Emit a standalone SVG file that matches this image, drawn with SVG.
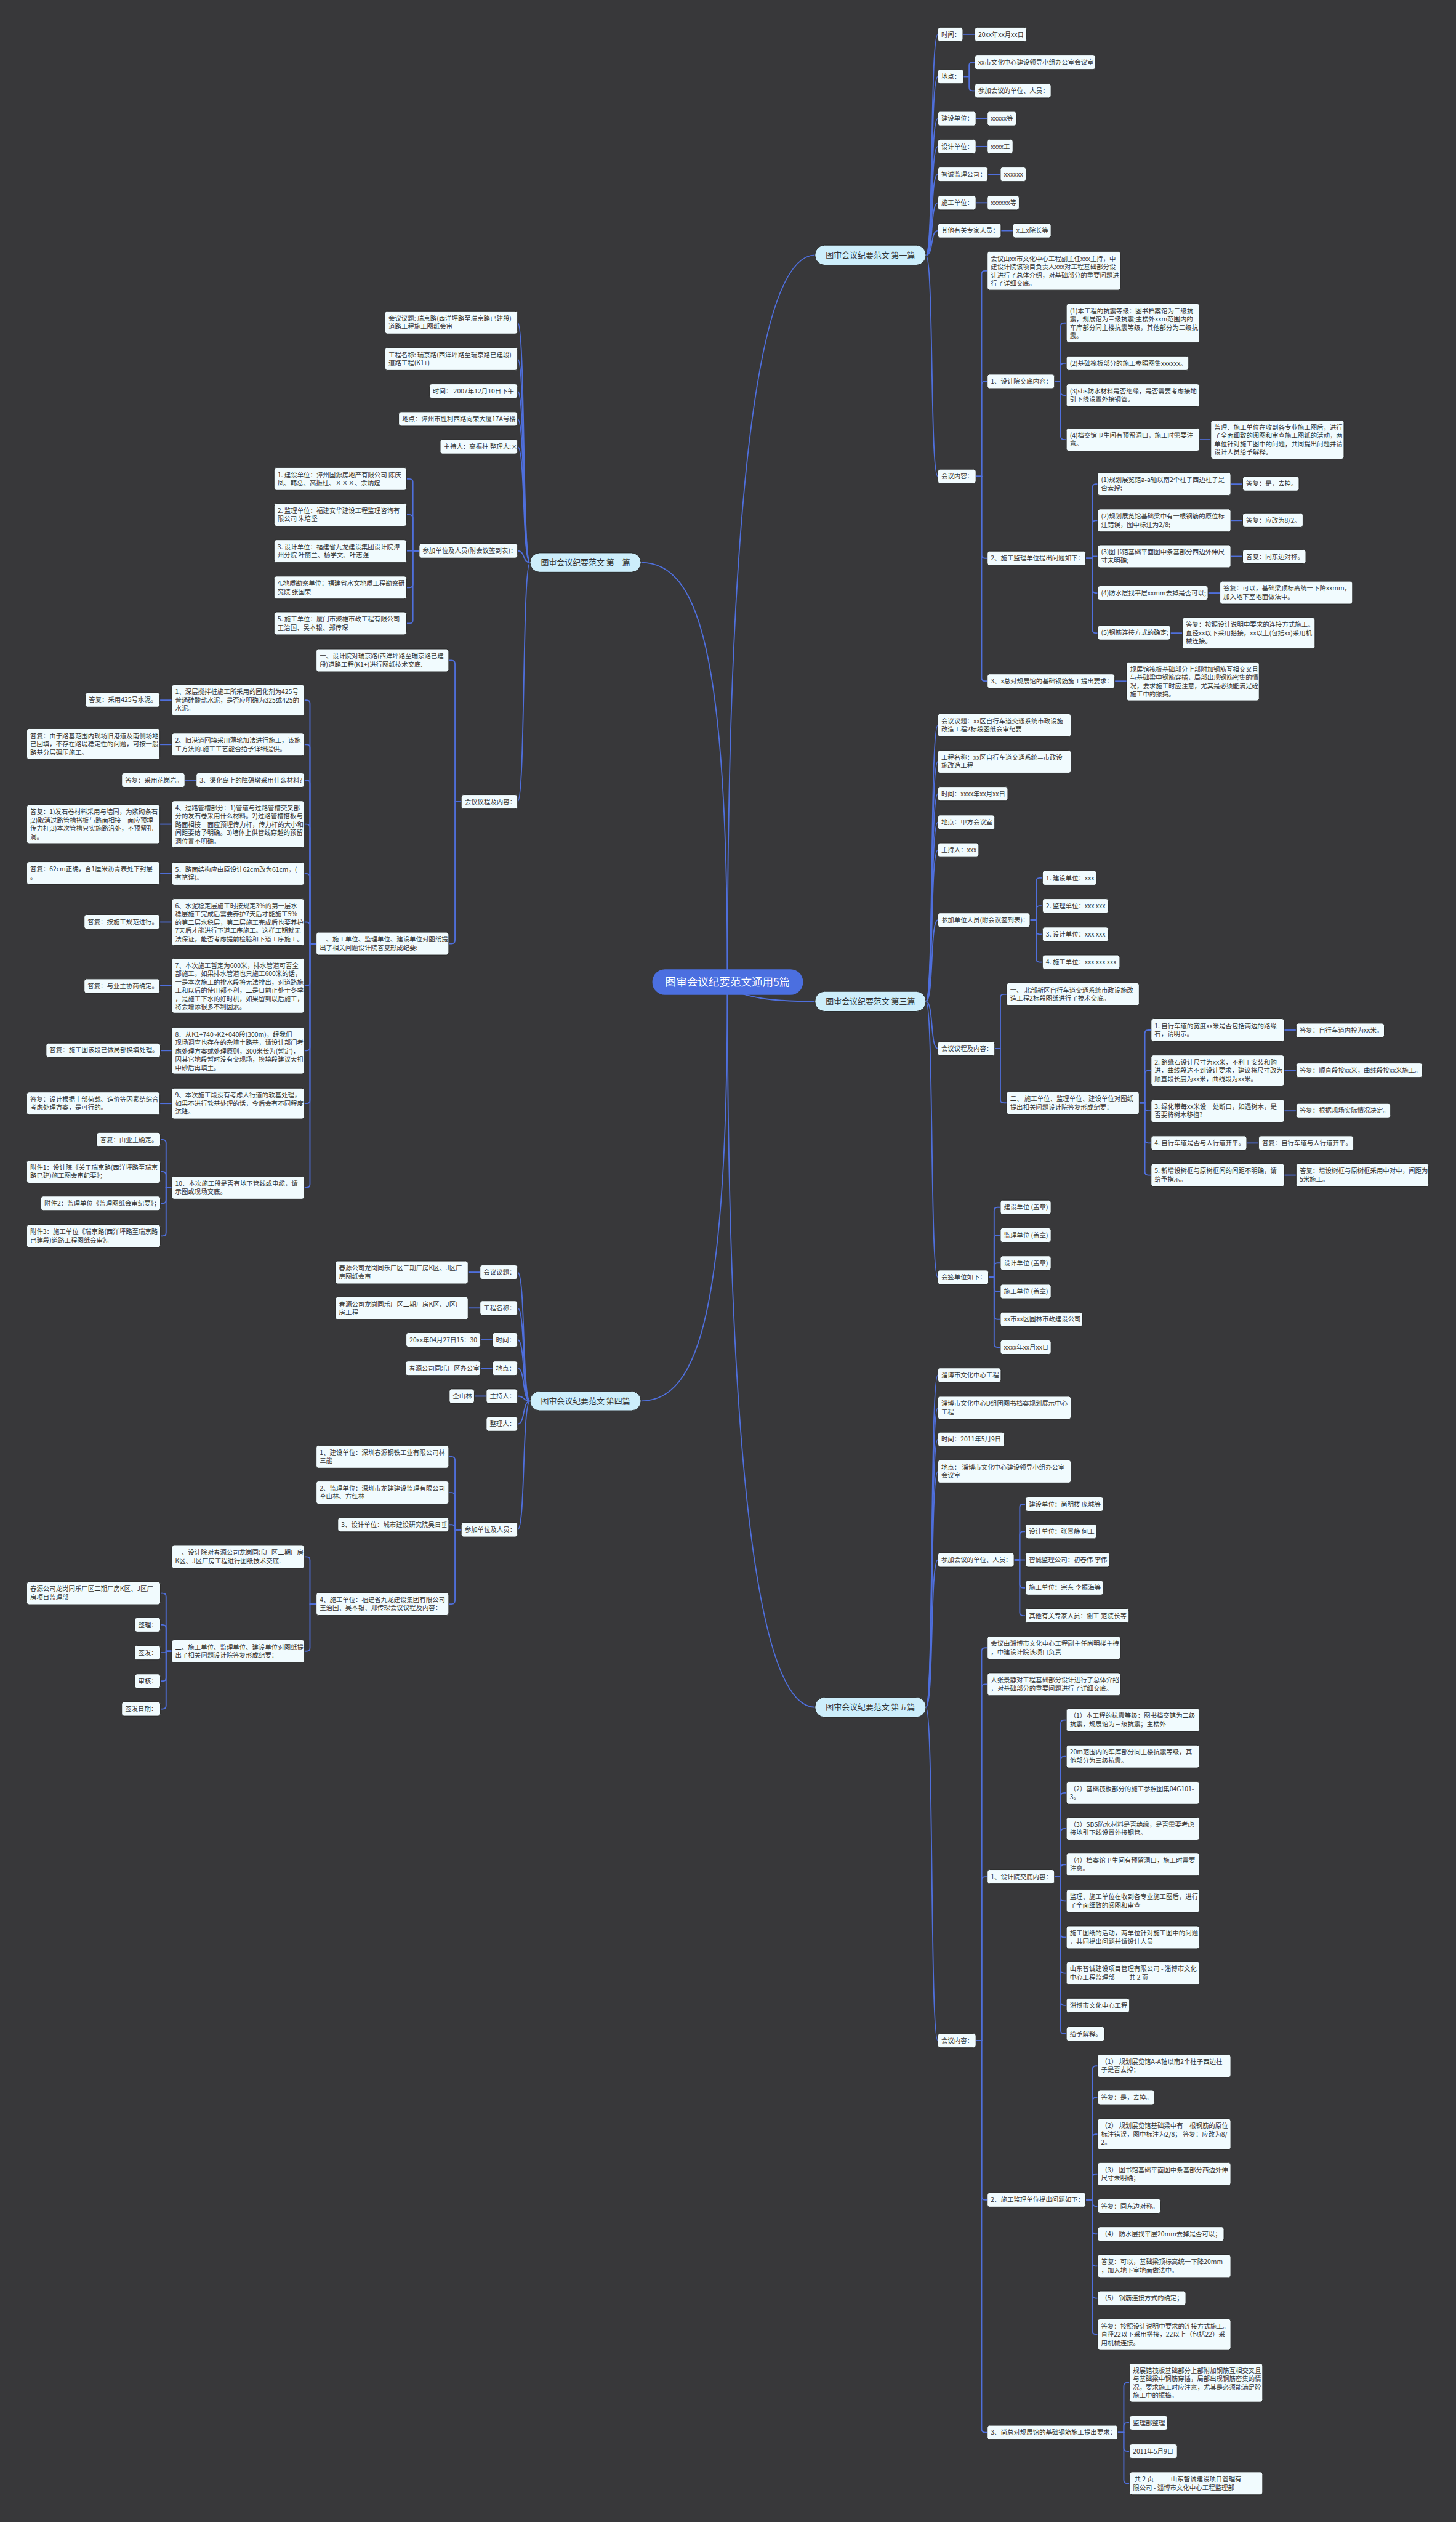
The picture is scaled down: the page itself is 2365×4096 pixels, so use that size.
<svg xmlns="http://www.w3.org/2000/svg" width="2365" height="4096" viewBox="0 0 2365 4096">
<style>
.n{fill:#f1fbfe;stroke:#232323;stroke-width:1;rx:4px;ry:4px}
.t{font-family:"Noto Sans CJK SC","Liberation Sans",sans-serif;font-size:11.3px;fill:#333}
.h{fill:#cdeefb;stroke:#222;stroke-width:1;rx:17px;ry:17px}
.ht{font-family:"Noto Sans CJK SC","Liberation Sans",sans-serif;font-size:14px;fill:#333;text-anchor:middle}
.c{fill:none;stroke:#4f6fdc;stroke-width:2}
</style>
<rect width="2365" height="4096" fill="#38383a"/>
<g transform="scale(0.9238)">
<g id="connectors" class="c">
<path d="M1279,1726C1279,900 1330,448.5 1433,448.5"/>
<path d="M1279,1726C1279,1150 1230,989 1127,989"/>
<path d="M1279,1735C1310,1755 1360,1760.5 1433,1760.5"/>
<path d="M1279,1726C1279,2300 1230,2463 1127,2463"/>
<path d="M1279,1726C1279,2550 1330,3001.5 1433,3001.5"/>
<path d="M1628,448.5C1642,448.5 1635,60.5 1649,60.5"/>
<path d="M1628,448.5C1642,448.5 1635,134.5 1649,134.5"/>
<path d="M1628,448.5C1642,448.5 1635,208.5 1649,208.5"/>
<path d="M1628,448.5C1642,448.5 1635,257.5 1649,257.5"/>
<path d="M1628,448.5C1642,448.5 1635,306.5 1649,306.5"/>
<path d="M1628,448.5C1642,448.5 1635,356.5 1649,356.5"/>
<path d="M1628,448.5C1642,448.5 1635,405.5 1649,405.5"/>
<path d="M1628,448.5C1642,448.5 1635,837.5 1649,837.5"/>
<path d="M1693,60.5H1714"/>
<path d="M1694,134.5H1704V115.5Q1704,109.5 1710,109.5H1714"/>
<path d="M1694,134.5H1704V153.5Q1704,159.5 1710,159.5H1714"/>
<path d="M1716,208.5H1736"/>
<path d="M1716,257.5H1736"/>
<path d="M1737,306.5H1759"/>
<path d="M1716,356.5H1736"/>
<path d="M1760,405.5H1781"/>
<path d="M1716,837.5H1726V482Q1726,476 1732,476H1736"/>
<path d="M1716,837.5H1726V676.5Q1726,670.5 1732,670.5H1736"/>
<path d="M1716,837.5H1726V975.5Q1726,981.5 1732,981.5H1736"/>
<path d="M1716,837.5H1726V1191.5Q1726,1197.5 1732,1197.5H1736"/>
<path d="M1854,670.5H1865V574Q1865,568 1871,568H1875"/>
<path d="M1854,670.5H1865V644.5Q1865,638.5 1871,638.5H1875"/>
<path d="M1854,670.5H1865V689Q1865,695 1871,695H1875"/>
<path d="M1854,670.5H1865V767Q1865,773 1871,773H1875"/>
<path d="M2109,773H2129"/>
<path d="M1909,981.5H1921V857Q1921,851 1927,851H1930"/>
<path d="M1909,981.5H1921V921Q1921,915 1927,915H1930"/>
<path d="M1909,981.5H1921V978H1930"/>
<path d="M1909,981.5H1921V1036.5Q1921,1042.5 1927,1042.5H1930"/>
<path d="M1909,981.5H1921V1107Q1921,1113 1927,1113H1930"/>
<path d="M2164,851H2185"/>
<path d="M2164,915H2185"/>
<path d="M2164,978H2185"/>
<path d="M2124,1042.5H2145"/>
<path d="M2058,1113H2079"/>
<path d="M1960,1197.5H1981"/>
<path d="M1628,1760.5C1642,1760.5 1635,1275 1649,1275"/>
<path d="M1628,1760.5C1642,1760.5 1635,1339 1649,1339"/>
<path d="M1628,1760.5C1642,1760.5 1635,1395.5 1649,1395.5"/>
<path d="M1628,1760.5C1642,1760.5 1635,1445.5 1649,1445.5"/>
<path d="M1628,1760.5C1642,1760.5 1635,1494.5 1649,1494.5"/>
<path d="M1628,1760.5C1642,1760.5 1635,1617.5 1649,1617.5"/>
<path d="M1628,1760.5C1642,1760.5 1635,1843.5 1649,1843.5"/>
<path d="M1628,1760.5C1642,1760.5 1635,2245.5 1649,2245.5"/>
<path d="M1811,1617.5H1822V1549.5Q1822,1543.5 1828,1543.5H1833"/>
<path d="M1811,1617.5H1822V1598.5Q1822,1592.5 1828,1592.5H1833"/>
<path d="M1811,1617.5H1822V1636.5Q1822,1642.5 1828,1642.5H1833"/>
<path d="M1811,1617.5H1822V1685.5Q1822,1691.5 1828,1691.5H1833"/>
<path d="M1749,1843.5H1759V1754Q1759,1748 1765,1748H1770"/>
<path d="M1749,1843.5H1759V1933Q1759,1939 1765,1939H1770"/>
<path d="M2003,1939H2013V1817Q2013,1811 2019,1811H2024"/>
<path d="M2003,1939H2013V1888Q2013,1882 2019,1882H2024"/>
<path d="M2003,1939H2013V1947Q2013,1953 2019,1953H2024"/>
<path d="M2003,1939H2013V2003.5Q2013,2009.5 2019,2009.5H2024"/>
<path d="M2003,1939H2013V2060Q2013,2066 2019,2066H2024"/>
<path d="M2258,1811H2279"/>
<path d="M2258,1882H2279"/>
<path d="M2258,1953H2279"/>
<path d="M2192,2009.5H2213"/>
<path d="M2258,2066H2279"/>
<path d="M1738,2245.5H1748V2128.5Q1748,2122.5 1754,2122.5H1759"/>
<path d="M1738,2245.5H1748V2177.5Q1748,2171.5 1754,2171.5H1759"/>
<path d="M1738,2245.5H1748V2226.5Q1748,2220.5 1754,2220.5H1759"/>
<path d="M1738,2245.5H1748V2264.5Q1748,2270.5 1754,2270.5H1759"/>
<path d="M1738,2245.5H1748V2313.5Q1748,2319.5 1754,2319.5H1759"/>
<path d="M1738,2245.5H1748V2362.5Q1748,2368.5 1754,2368.5H1759"/>
<path d="M1628,3001.5C1642,3001.5 1635,2417.5 1649,2417.5"/>
<path d="M1628,3001.5C1642,3001.5 1635,2475 1649,2475"/>
<path d="M1628,3001.5C1642,3001.5 1635,2530.5 1649,2530.5"/>
<path d="M1628,3001.5C1642,3001.5 1635,2587 1649,2587"/>
<path d="M1628,3001.5C1642,3001.5 1635,2742.5 1649,2742.5"/>
<path d="M1628,3001.5C1642,3001.5 1635,3587.5 1649,3587.5"/>
<path d="M1783,2742.5H1793V2650.5Q1793,2644.5 1799,2644.5H1803"/>
<path d="M1783,2742.5H1793V2698.5Q1793,2692.5 1799,2692.5H1803"/>
<path d="M1783,2742.5H1803"/>
<path d="M1783,2742.5H1793V2785.5Q1793,2791.5 1799,2791.5H1803"/>
<path d="M1783,2742.5H1793V2834.5Q1793,2840.5 1799,2840.5H1803"/>
<path d="M1716,3587.5H1726V2903Q1726,2897 1732,2897H1736"/>
<path d="M1716,3587.5H1726V2967Q1726,2961 1732,2961H1736"/>
<path d="M1716,3587.5H1726V3305.5Q1726,3299.5 1732,3299.5H1736"/>
<path d="M1716,3587.5H1726V3861.5Q1726,3867.5 1732,3867.5H1736"/>
<path d="M1716,3587.5H1726V4270.5Q1726,4276.5 1732,4276.5H1736"/>
<path d="M1854,3299.5H1865V3030Q1865,3024 1871,3024H1875"/>
<path d="M1854,3299.5H1865V3094Q1865,3088 1871,3088H1875"/>
<path d="M1854,3299.5H1865V3158Q1865,3152 1871,3152H1875"/>
<path d="M1854,3299.5H1865V3221Q1865,3215 1871,3215H1875"/>
<path d="M1854,3299.5H1865V3284Q1865,3278 1871,3278H1875"/>
<path d="M1854,3299.5H1865V3336Q1865,3342 1871,3342H1875"/>
<path d="M1854,3299.5H1865V3400Q1865,3406 1871,3406H1875"/>
<path d="M1854,3299.5H1865V3463Q1865,3469 1871,3469H1875"/>
<path d="M1854,3299.5H1865V3519.5Q1865,3525.5 1871,3525.5H1875"/>
<path d="M1854,3299.5H1865V3569.5Q1865,3575.5 1871,3575.5H1875"/>
<path d="M1909,3867.5H1921V3638Q1921,3632 1927,3632H1930"/>
<path d="M1909,3867.5H1921V3693.5Q1921,3687.5 1927,3687.5H1930"/>
<path d="M1909,3867.5H1921V3758Q1921,3752 1927,3752H1930"/>
<path d="M1909,3867.5H1921V3828Q1921,3822 1927,3822H1930"/>
<path d="M1909,3867.5H1921V3872.5Q1921,3878.5 1927,3878.5H1930"/>
<path d="M1909,3867.5H1921V3921.5Q1921,3927.5 1927,3927.5H1930"/>
<path d="M1909,3867.5H1921V3978Q1921,3984 1927,3984H1930"/>
<path d="M1909,3867.5H1921V4034.5Q1921,4040.5 1927,4040.5H1930"/>
<path d="M1909,3867.5H1921V4098Q1921,4104 1927,4104H1930"/>
<path d="M1965,4276.5H1976V4195Q1976,4189 1982,4189H1986"/>
<path d="M1965,4276.5H1976V4265.5Q1976,4259.5 1982,4259.5H1986"/>
<path d="M1965,4276.5H1976V4303.5Q1976,4309.5 1982,4309.5H1986"/>
<path d="M1965,4276.5H1976V4360Q1976,4366 1982,4366H1986"/>
<path d="M932,989C918,989 924,567 910,567"/>
<path d="M932,989C918,989 924,631 910,631"/>
<path d="M932,989C918,989 924,687.5 910,687.5"/>
<path d="M932,989C918,989 924,736.5 910,736.5"/>
<path d="M932,989C918,989 924,785.5 910,785.5"/>
<path d="M932,989C918,989 924,968.5 910,968.5"/>
<path d="M932,989C918,989 924,1409.5 910,1409.5"/>
<path d="M737,968.5H726V848Q726,842 720,842H715"/>
<path d="M737,968.5H726V911Q726,905 720,905H715"/>
<path d="M737,968.5H715"/>
<path d="M737,968.5H726V1027Q726,1033 720,1033H715"/>
<path d="M737,968.5H726V1090Q726,1096 720,1096H715"/>
<path d="M811,1409.5H800V1167Q800,1161 794,1161H789"/>
<path d="M811,1409.5H800V1653Q800,1659 794,1659H789"/>
<path d="M556,1659H545V1237Q545,1231 539,1231H535"/>
<path d="M556,1659H545V1315Q545,1309 539,1309H535"/>
<path d="M556,1659H545V1377.5Q545,1371.5 539,1371.5H535"/>
<path d="M556,1659H545V1455Q545,1449 539,1449H535"/>
<path d="M556,1659H545V1542Q545,1536 539,1536H535"/>
<path d="M556,1659H545V1627Q545,1621 539,1621H535"/>
<path d="M556,1659H545V1727Q545,1733 539,1733H535"/>
<path d="M556,1659H545V1841Q545,1847 539,1847H535"/>
<path d="M556,1659H545V1934Q545,1940 539,1940H535"/>
<path d="M556,1659H545V2082Q545,2088 539,2088H535"/>
<path d="M302,1231H281"/>
<path d="M302,1309H281"/>
<path d="M345,1371.5H325"/>
<path d="M302,1449H281"/>
<path d="M302,1536H281"/>
<path d="M302,1621H281"/>
<path d="M302,1733H281"/>
<path d="M302,1847H282"/>
<path d="M302,1940H281"/>
<path d="M302,2088H292V2009.5Q292,2003.5 286,2003.5H282"/>
<path d="M302,2088H292V2066Q292,2060 286,2060H282"/>
<path d="M302,2088H292V2109.5Q292,2115.5 286,2115.5H282"/>
<path d="M302,2088H292V2167Q292,2173 286,2173H282"/>
<path d="M932,2463C918,2463 924,2236.5 910,2236.5"/>
<path d="M932,2463C918,2463 924,2299.5 910,2299.5"/>
<path d="M932,2463C918,2463 924,2355.5 910,2355.5"/>
<path d="M932,2463C918,2463 924,2405.5 910,2405.5"/>
<path d="M932,2463C918,2463 924,2454.5 910,2454.5"/>
<path d="M932,2463C918,2463 924,2503.5 910,2503.5"/>
<path d="M932,2463C918,2463 924,2689.5 910,2689.5"/>
<path d="M844,2236.5H823"/>
<path d="M844,2299.5H823"/>
<path d="M866,2355.5H845"/>
<path d="M866,2405.5H845"/>
<path d="M855,2454.5H834"/>
<path d="M811,2689.5H800V2567Q800,2561 794,2561H789"/>
<path d="M811,2689.5H800V2630Q800,2624 794,2624H789"/>
<path d="M811,2689.5H800V2686.5Q800,2680.5 794,2680.5H789"/>
<path d="M811,2689.5H800V2814Q800,2820 794,2820H789"/>
<path d="M556,2820H545V2743Q545,2737 539,2737H535"/>
<path d="M556,2820H545V2897Q545,2903 539,2903H535"/>
<path d="M302,2903H292V2807Q292,2801 286,2801H282"/>
<path d="M302,2903H292V2862.5Q292,2856.5 286,2856.5H282"/>
<path d="M302,2903H292V2905.5H282"/>
<path d="M302,2903H292V2949.5Q292,2955.5 286,2955.5H282"/>
<path d="M302,2903H292V2998.5Q292,3004.5 286,3004.5H282"/>
</g>
<g id="center"><rect x="1147" y="1704" width="265" height="45" rx="22" fill="#4b6fe0"/><text x="1279.5" y="1733" font-family="Noto Sans CJK SC, sans-serif" font-size="19" fill="#fff" text-anchor="middle">图审会议纪要范文通用5篇</text></g>
<g id="h1"><rect class="h" x="1433" y="431" width="195" height="35"/><text class="ht" x="1530.5" y="453.5">图审会议纪要范文 第一篇</text></g>
<g id="h2"><rect class="h" x="932" y="972" width="195" height="34"/><text class="ht" x="1029.5" y="994">图审会议纪要范文 第二篇</text></g>
<g id="h3"><rect class="h" x="1433" y="1743" width="195" height="35"/><text class="ht" x="1530.5" y="1765.5">图审会议纪要范文 第三篇</text></g>
<g id="h4"><rect class="h" x="932" y="2446" width="195" height="34"/><text class="ht" x="1029.5" y="2468">图审会议纪要范文 第四篇</text></g>
<g id="h5"><rect class="h" x="1433" y="2984" width="195" height="35"/><text class="ht" x="1530.5" y="3006.5">图审会议纪要范文 第五篇</text></g>
<g id="n1"><rect class="n" x="1649" y="48" width="44" height="25"/><text class="t" x="1655" y="64.5">时间：</text></g>
<g id="n2"><rect class="n" x="1714" y="48" width="91" height="25"/><text class="t" x="1720" y="64.5">20xx年xx月xx日</text></g>
<g id="n3"><rect class="n" x="1649" y="122" width="45" height="25"/><text class="t" x="1655" y="138.5">地点：</text></g>
<g id="n4"><rect class="n" x="1714" y="97" width="212" height="25"/><text class="t" x="1720" y="113.5">xx市文化中心建设领导小组办公室会议室</text></g>
<g id="n5"><rect class="n" x="1714" y="147" width="134" height="25"/><text class="t" x="1720" y="163.5">参加会议的单位、人员：</text></g>
<g id="n6"><rect class="n" x="1649" y="196" width="67" height="25"/><text class="t" x="1655" y="212.5">建设单位：</text></g>
<g id="n7"><rect class="n" x="1736" y="196" width="51" height="25"/><text class="t" x="1742" y="212.5">xxxxx等</text></g>
<g id="n8"><rect class="n" x="1649" y="245" width="67" height="25"/><text class="t" x="1655" y="261.5">设计单位：</text></g>
<g id="n9"><rect class="n" x="1736" y="245" width="45" height="25"/><text class="t" x="1742" y="261.5">xxxx工</text></g>
<g id="n10"><rect class="n" x="1649" y="294" width="88" height="25"/><text class="t" x="1655" y="310.5">智诚监理公司：</text></g>
<g id="n11"><rect class="n" x="1759" y="294" width="45" height="25"/><text class="t" x="1765" y="310.5">xxxxxx</text></g>
<g id="n12"><rect class="n" x="1649" y="344" width="67" height="25"/><text class="t" x="1655" y="360.5">施工单位：</text></g>
<g id="n13"><rect class="n" x="1736" y="344" width="56" height="25"/><text class="t" x="1742" y="360.5">xxxxxx等</text></g>
<g id="n14"><rect class="n" x="1649" y="393" width="111" height="25"/><text class="t" x="1655" y="409.5">其他有关专家人员：</text></g>
<g id="n15"><rect class="n" x="1781" y="393" width="67" height="25"/><text class="t" x="1787" y="409.5">x工x院长等</text></g>
<g id="n16"><rect class="n" x="1736" y="442" width="234" height="68"/><text class="t" x="1742" y="458.5">会议由xx市文化中心工程副主任xxx主持，中<tspan x="1742" dy="14.6">建设计院该项目负责人xxx对工程基础部分设</tspan><tspan x="1742" dy="14.6">计进行了总体介绍，对基础部分的重要问题进</tspan><tspan x="1742" dy="14.6">行了详细交底。</tspan></text></g>
<g id="n17"><rect class="n" x="1736" y="658" width="118" height="25"/><text class="t" x="1742" y="674.5">1、设计院交底内容：</text></g>
<g id="n18"><rect class="n" x="1875" y="534" width="234" height="68"/><text class="t" x="1881" y="550.5">(1)本工程的抗震等级：图书档案馆为二级抗<tspan x="1881" dy="14.6">震，规展馆为三级抗震;主楼外xxm范围内的</tspan><tspan x="1881" dy="14.6">车库部分同主楼抗震等级，其他部分为三级抗</tspan><tspan x="1881" dy="14.6">震。</tspan></text></g>
<g id="n19"><rect class="n" x="1875" y="626" width="215" height="25"/><text class="t" x="1881" y="642.5">(2)基础筏板部分的施工参照图集xxxxxx。</text></g>
<g id="n20"><rect class="n" x="1875" y="675" width="234" height="40"/><text class="t" x="1881" y="691.5">(3)sbs防水材料是否绝缘，是否需要考虑接地<tspan x="1881" dy="14.6">引下线设置外接钢管。</tspan></text></g>
<g id="n21"><rect class="n" x="1875" y="753" width="234" height="40"/><text class="t" x="1881" y="769.5">(4)档案馆卫生间有预留洞口，施工时需要注<tspan x="1881" dy="14.6">意。</tspan></text></g>
<g id="n22"><rect class="n" x="2129" y="739" width="234" height="68"/><text class="t" x="2135" y="755.5">监理、施工单位在收到各专业施工图后，进行<tspan x="2135" dy="14.6">了全面细致的阅图和审查施工图纸的活动，两</tspan><tspan x="2135" dy="14.6">单位针对施工图中的问题，共同提出问题并请</tspan><tspan x="2135" dy="14.6">设计人员给予解释。</tspan></text></g>
<g id="n23"><rect class="n" x="1649" y="825" width="67" height="25"/><text class="t" x="1655" y="841.5">会议内容：</text></g>
<g id="n24"><rect class="n" x="1930" y="831" width="234" height="40"/><text class="t" x="1936" y="847.5">(1)规划展览馆a-a轴以南2个柱子西边柱子是<tspan x="1936" dy="14.6">否去掉;</tspan></text></g>
<g id="n25"><rect class="n" x="2185" y="838" width="99" height="25"/><text class="t" x="2191" y="854.5">答复：是，去掉。</text></g>
<g id="n26"><rect class="n" x="1930" y="895" width="234" height="40"/><text class="t" x="1936" y="911.5">(2)规划展览馆基础梁中有一根钢筋的原位标<tspan x="1936" dy="14.6">注错误，图中标注为2/8;</tspan></text></g>
<g id="n27"><rect class="n" x="2185" y="902" width="106" height="25"/><text class="t" x="2191" y="918.5">答复：应改为8/2。</text></g>
<g id="n28"><rect class="n" x="1930" y="958" width="234" height="40"/><text class="t" x="1936" y="974.5">(3)图书馆基础平面图中条基部分西边外伸尺<tspan x="1936" dy="14.6">寸未明确;</tspan></text></g>
<g id="n29"><rect class="n" x="2185" y="966" width="111" height="25"/><text class="t" x="2191" y="982.5">答复：同东边对称。</text></g>
<g id="n30"><rect class="n" x="1736" y="969" width="173" height="25"/><text class="t" x="1742" y="985.5">2、施工监理单位提出问题如下：</text></g>
<g id="n31"><rect class="n" x="1930" y="1030" width="194" height="25"/><text class="t" x="1936" y="1046.5">(4)防水层找平层xxmm去掉是否可以;</text></g>
<g id="n32"><rect class="n" x="2145" y="1022" width="233" height="40"/><text class="t" x="2151" y="1038.5">答复：可以，基础梁顶标高统一下降xxmm，<tspan x="2151" dy="14.6">加入地下室地面做法中。</tspan></text></g>
<g id="n33"><rect class="n" x="1930" y="1100" width="128" height="25"/><text class="t" x="1936" y="1116.5">(5)钢筋连接方式的确定;</text></g>
<g id="n34"><rect class="n" x="2079" y="1086" width="233" height="54"/><text class="t" x="2085" y="1102.5">答复：按照设计说明中要求的连接方式施工。<tspan x="2085" dy="14.6">直径xx以下采用搭接，xx以上(包括xx)采用机</tspan><tspan x="2085" dy="14.6">械连接。</tspan></text></g>
<g id="n35"><rect class="n" x="1736" y="1185" width="224" height="25"/><text class="t" x="1742" y="1201.5">3、x总对规展馆的基础钢筋施工提出要求：</text></g>
<g id="n36"><rect class="n" x="1981" y="1164" width="233" height="68"/><text class="t" x="1987" y="1180.5">规展馆筏板基础部分上部附加钢筋互相交叉且<tspan x="1987" dy="14.6">与基础梁中钢筋穿插，局部出现钢筋密集的情</tspan><tspan x="1987" dy="14.6">况，要求施工时应注意，尤其是必须能满足砼</tspan><tspan x="1987" dy="14.6">施工中的振捣。</tspan></text></g>
<g id="n37"><rect class="n" x="1649" y="1255" width="234" height="40"/><text class="t" x="1655" y="1271.5">会议议题：xx区自行车道交通系统市政设施<tspan x="1655" dy="14.6">改造工程2标段图纸会审纪要</tspan></text></g>
<g id="n38"><rect class="n" x="1649" y="1319" width="234" height="40"/><text class="t" x="1655" y="1335.5">工程名称：xx区自行车道交通系统—市政设<tspan x="1655" dy="14.6">施改造工程</tspan></text></g>
<g id="n39"><rect class="n" x="1649" y="1383" width="123" height="25"/><text class="t" x="1655" y="1399.5">时间：xxxx年xx月xx日</text></g>
<g id="n40"><rect class="n" x="1649" y="1433" width="100" height="25"/><text class="t" x="1655" y="1449.5">地点：甲方会议室</text></g>
<g id="n41"><rect class="n" x="1649" y="1482" width="72" height="25"/><text class="t" x="1655" y="1498.5">主持人：xxx</text></g>
<g id="n42"><rect class="n" x="1649" y="1605" width="162" height="25"/><text class="t" x="1655" y="1621.5">参加单位人员(附会议签到表)：</text></g>
<g id="n43"><rect class="n" x="1833" y="1531" width="95" height="25"/><text class="t" x="1839" y="1547.5">1. 建设单位：xxx</text></g>
<g id="n44"><rect class="n" x="1833" y="1580" width="116" height="25"/><text class="t" x="1839" y="1596.5">2. 监理单位：xxx xxx</text></g>
<g id="n45"><rect class="n" x="1833" y="1630" width="116" height="25"/><text class="t" x="1839" y="1646.5">3. 设计单位：xxx xxx</text></g>
<g id="n46"><rect class="n" x="1833" y="1679" width="136" height="25"/><text class="t" x="1839" y="1695.5">4. 施工单位：xxx xxx xxx</text></g>
<g id="n47"><rect class="n" x="1770" y="1728" width="233" height="40"/><text class="t" x="1776" y="1744.5">一、 北部新区自行车道交通系统市政设施改<tspan x="1776" dy="14.6">造工程2标段图纸进行了技术交底。</tspan></text></g>
<g id="n48"><rect class="n" x="1649" y="1831" width="100" height="25"/><text class="t" x="1655" y="1847.5">会议议程及内容：</text></g>
<g id="n49"><rect class="n" x="1770" y="1919" width="233" height="40"/><text class="t" x="1776" y="1935.5">二、 施工单位、监理单位、建设单位对图纸<tspan x="1776" dy="14.6">提出相关问题设计院答复形成纪要：</tspan></text></g>
<g id="n50"><rect class="n" x="2024" y="1791" width="234" height="40"/><text class="t" x="2030" y="1807.5">1. 自行车道的宽度xx米是否包括两边的路缘<tspan x="2030" dy="14.6">石，请明示。</tspan></text></g>
<g id="n51"><rect class="n" x="2279" y="1799" width="155" height="25"/><text class="t" x="2285" y="1815.5">答复：自行车道内控为xx米。</text></g>
<g id="n52"><rect class="n" x="2024" y="1855" width="234" height="54"/><text class="t" x="2030" y="1871.5">2. 路缘石设计尺寸为xx米，不利于安装和购<tspan x="2030" dy="14.6">进，曲线段达不到设计要求，建议将尺寸改为</tspan><tspan x="2030" dy="14.6">顺直段长度为xx米，曲线段为xx米。</tspan></text></g>
<g id="n53"><rect class="n" x="2279" y="1869" width="222" height="25"/><text class="t" x="2285" y="1885.5">答复：顺直段按xx米，曲线段按xx米施工。</text></g>
<g id="n54"><rect class="n" x="2024" y="1933" width="234" height="40"/><text class="t" x="2030" y="1949.5">3. 绿化带每xx米设一处断口，如遇树木，是<tspan x="2030" dy="14.6">否要将树木移植?</tspan></text></g>
<g id="n55"><rect class="n" x="2279" y="1940" width="166" height="25"/><text class="t" x="2285" y="1956.5">答复：根据现场实际情况决定。</text></g>
<g id="n56"><rect class="n" x="2024" y="1997" width="168" height="25"/><text class="t" x="2030" y="2013.5">4. 自行车道是否与人行道齐平。</text></g>
<g id="n57"><rect class="n" x="2213" y="1997" width="167" height="25"/><text class="t" x="2219" y="2013.5">答复：自行车道与人行道齐平。</text></g>
<g id="n58"><rect class="n" x="2024" y="2046" width="234" height="40"/><text class="t" x="2030" y="2062.5">5. 新增设树框与原树框间的间距不明确，请<tspan x="2030" dy="14.6">给予指示。</tspan></text></g>
<g id="n59"><rect class="n" x="2279" y="2046" width="233" height="40"/><text class="t" x="2285" y="2062.5">答复：增设树框与原树框采用中对中，间距为<tspan x="2285" dy="14.6">5米施工。</tspan></text></g>
<g id="n60"><rect class="n" x="1649" y="2233" width="89" height="25"/><text class="t" x="1655" y="2249.5">会签单位如下：</text></g>
<g id="n61"><rect class="n" x="1759" y="2110" width="89" height="25"/><text class="t" x="1765" y="2126.5">建设单位 (盖章)</text></g>
<g id="n62"><rect class="n" x="1759" y="2159" width="89" height="25"/><text class="t" x="1765" y="2175.5">监理单位 (盖章)</text></g>
<g id="n63"><rect class="n" x="1759" y="2208" width="89" height="25"/><text class="t" x="1765" y="2224.5">设计单位 (盖章)</text></g>
<g id="n64"><rect class="n" x="1759" y="2258" width="89" height="25"/><text class="t" x="1765" y="2274.5">施工单位 (盖章)</text></g>
<g id="n65"><rect class="n" x="1759" y="2307" width="144" height="25"/><text class="t" x="1765" y="2323.5">xx市xx区园林市政建设公司</text></g>
<g id="n66"><rect class="n" x="1759" y="2356" width="89" height="25"/><text class="t" x="1765" y="2372.5">xxxx年xx月xx日</text></g>
<g id="n67"><rect class="n" x="1649" y="2405" width="111" height="25"/><text class="t" x="1655" y="2421.5">淄博市文化中心工程</text></g>
<g id="n68"><rect class="n" x="1649" y="2455" width="234" height="40"/><text class="t" x="1655" y="2471.5">淄博市文化中心D组团图书档案规划展示中心<tspan x="1655" dy="14.6">工程</tspan></text></g>
<g id="n69"><rect class="n" x="1649" y="2518" width="117" height="25"/><text class="t" x="1655" y="2534.5">时间：2011年5月9日</text></g>
<g id="n70"><rect class="n" x="1649" y="2567" width="234" height="40"/><text class="t" x="1655" y="2583.5">地点： 淄博市文化中心建设领导小组办公室<tspan x="1655" dy="14.6">会议室</tspan></text></g>
<g id="n71"><rect class="n" x="1803" y="2632" width="137" height="25"/><text class="t" x="1809" y="2648.5">建设单位：尚明楼 庞城等</text></g>
<g id="n72"><rect class="n" x="1803" y="2680" width="125" height="25"/><text class="t" x="1809" y="2696.5">设计单位：张景静 何工</text></g>
<g id="n73"><rect class="n" x="1649" y="2730" width="134" height="25"/><text class="t" x="1655" y="2746.5">参加会议的单位、人员：</text></g>
<g id="n74"><rect class="n" x="1803" y="2730" width="148" height="25"/><text class="t" x="1809" y="2746.5">智诚监理公司：初春伟 李伟</text></g>
<g id="n75"><rect class="n" x="1803" y="2779" width="137" height="25"/><text class="t" x="1809" y="2795.5">施工单位：宗东 李振海等</text></g>
<g id="n76"><rect class="n" x="1803" y="2828" width="182" height="25"/><text class="t" x="1809" y="2844.5">其他有关专家人员：谢工 范院长等</text></g>
<g id="n77"><rect class="n" x="1736" y="2877" width="234" height="40"/><text class="t" x="1742" y="2893.5">会议由淄博市文化中心工程副主任尚明楼主持<tspan x="1742" dy="14.6">，中建设计院该项目负责</tspan></text></g>
<g id="n78"><rect class="n" x="1736" y="2941" width="234" height="40"/><text class="t" x="1742" y="2957.5">人张景静对工程基础部分设计进行了总体介绍<tspan x="1742" dy="14.6">，对基础部分的重要问题进行了详细交底。</tspan></text></g>
<g id="n79"><rect class="n" x="1875" y="3004" width="234" height="40"/><text class="t" x="1881" y="3020.5">（1）本工程的抗震等级：图书档案馆为二级<tspan x="1881" dy="14.6">抗震，规展馆为三级抗震；主楼外</tspan></text></g>
<g id="n80"><rect class="n" x="1875" y="3068" width="234" height="40"/><text class="t" x="1881" y="3084.5">20m范围内的车库部分同主楼抗震等级，其<tspan x="1881" dy="14.6">他部分为三级抗震。</tspan></text></g>
<g id="n81"><rect class="n" x="1875" y="3132" width="234" height="40"/><text class="t" x="1881" y="3148.5">（2）基础筏板部分的施工参照图集04G101-<tspan x="1881" dy="14.6">3。</tspan></text></g>
<g id="n82"><rect class="n" x="1875" y="3195" width="234" height="40"/><text class="t" x="1881" y="3211.5">（3）SBS防水材料是否绝缘，是否需要考虑<tspan x="1881" dy="14.6">接地引下线设置外接钢管。</tspan></text></g>
<g id="n83"><rect class="n" x="1875" y="3258" width="234" height="40"/><text class="t" x="1881" y="3274.5">（4）档案馆卫生间有预留洞口，施工时需要<tspan x="1881" dy="14.6">注意。</tspan></text></g>
<g id="n84"><rect class="n" x="1736" y="3287" width="118" height="25"/><text class="t" x="1742" y="3303.5">1、设计院交底内容：</text></g>
<g id="n85"><rect class="n" x="1875" y="3322" width="234" height="40"/><text class="t" x="1881" y="3338.5">监理、施工单位在收到各专业施工图后，进行<tspan x="1881" dy="14.6">了全面细致的阅图和审查</tspan></text></g>
<g id="n86"><rect class="n" x="1875" y="3386" width="234" height="40"/><text class="t" x="1881" y="3402.5">施工图纸的活动，两单位针对施工图中的问题<tspan x="1881" dy="14.6">，共同提出问题并请设计人员</tspan></text></g>
<g id="n87"><rect class="n" x="1875" y="3449" width="234" height="40"/><text class="t" x="1881" y="3465.5">山东智诚建设项目管理有限公司 - 淄博市文化<tspan x="1881" dy="14.6" xml:space="preserve">中心工程监理部          共 2 页</tspan></text></g>
<g id="n88"><rect class="n" x="1875" y="3513" width="111" height="25"/><text class="t" x="1881" y="3529.5">淄博市文化中心工程</text></g>
<g id="n89"><rect class="n" x="1875" y="3563" width="67" height="25"/><text class="t" x="1881" y="3579.5">给予解释。</text></g>
<g id="n90"><rect class="n" x="1649" y="3575" width="67" height="25"/><text class="t" x="1655" y="3591.5">会议内容：</text></g>
<g id="n91"><rect class="n" x="1930" y="3612" width="234" height="40"/><text class="t" x="1936" y="3628.5">（1） 规划展览馆A-A轴以南2个柱子西边柱<tspan x="1936" dy="14.6">子是否去掉；</tspan></text></g>
<g id="n92"><rect class="n" x="1930" y="3675" width="100" height="25"/><text class="t" x="1936" y="3691.5">答复：是，去掉。</text></g>
<g id="n93"><rect class="n" x="1930" y="3725" width="234" height="54"/><text class="t" x="1936" y="3741.5">（2） 规划展览馆基础梁中有一根钢筋的原位<tspan x="1936" dy="14.6">标注错误，图中标注为2/8； 答复：应改为8/</tspan><tspan x="1936" dy="14.6">2。</tspan></text></g>
<g id="n94"><rect class="n" x="1930" y="3802" width="234" height="40"/><text class="t" x="1936" y="3818.5">（3） 图书馆基础平面图中条基部分西边外伸<tspan x="1936" dy="14.6">尺寸未明确；</tspan></text></g>
<g id="n95"><rect class="n" x="1930" y="3866" width="111" height="25"/><text class="t" x="1936" y="3882.5">答复：同东边对称。</text></g>
<g id="n96"><rect class="n" x="1736" y="3855" width="173" height="25"/><text class="t" x="1742" y="3871.5">2、施工监理单位提出问题如下：</text></g>
<g id="n97"><rect class="n" x="1930" y="3915" width="222" height="25"/><text class="t" x="1936" y="3931.5">（4） 防水层找平层20mm去掉是否可以；</text></g>
<g id="n98"><rect class="n" x="1930" y="3964" width="234" height="40"/><text class="t" x="1936" y="3980.5">答复：可以，基础梁顶标高统一下降20mm<tspan x="1936" dy="14.6">，加入地下室地面做法中。</tspan></text></g>
<g id="n99"><rect class="n" x="1930" y="4028" width="155" height="25"/><text class="t" x="1936" y="4044.5">（5） 钢筋连接方式的确定；</text></g>
<g id="n100"><rect class="n" x="1930" y="4077" width="234" height="54"/><text class="t" x="1936" y="4093.5">答复：按照设计说明中要求的连接方式施工。<tspan x="1936" dy="14.6">直径22以下采用搭接，22以上（包括22）采</tspan><tspan x="1936" dy="14.6">用机械连接。</tspan></text></g>
<g id="n101"><rect class="n" x="1986" y="4155" width="234" height="68"/><text class="t" x="1992" y="4171.5">规展馆筏板基础部分上部附加钢筋互相交叉且<tspan x="1992" dy="14.6">与基础梁中钢筋穿插，局部出现钢筋密集的情</tspan><tspan x="1992" dy="14.6">况，要求施工时应注意，尤其是必须能满足砼</tspan><tspan x="1992" dy="14.6">施工中的振捣。</tspan></text></g>
<g id="n102"><rect class="n" x="1736" y="4264" width="229" height="25"/><text class="t" x="1742" y="4280.5">3、尚总对规展馆的基础钢筋施工提出要求：</text></g>
<g id="n103"><rect class="n" x="1986" y="4247" width="67" height="25"/><text class="t" x="1992" y="4263.5">监理部整理</text></g>
<g id="n104"><rect class="n" x="1986" y="4297" width="84" height="25"/><text class="t" x="1992" y="4313.5">2011年5月9日</text></g>
<g id="n105"><rect class="n" x="1986" y="4346" width="234" height="40"/><text class="t" x="1992" y="4362.5" xml:space="preserve"> 共 2 页            山东智诚建设项目管理有<tspan x="1992" dy="14.6">限公司 - 淄博市文化中心工程监理部</tspan></text></g>
<g id="L1"><rect class="n" x="677" y="547" width="233" height="40"/><text class="t" x="683" y="563.5">会议议题: 瑞京路(西洋坪路至瑞京路已建段)<tspan x="683" dy="14.6">道路工程施工图纸会审</tspan></text></g>
<g id="L2"><rect class="n" x="677" y="611" width="233" height="40"/><text class="t" x="683" y="627.5">工程名称: 瑞京路(西洋坪路至瑞京路已建段)<tspan x="683" dy="14.6">道路工程(K1+)</tspan></text></g>
<g id="L3"><rect class="n" x="755" y="675" width="155" height="25"/><text class="t" x="761" y="691.5">时间：  2007年12月10日下午</text></g>
<g id="L4"><rect class="n" x="701" y="724" width="209" height="25"/><text class="t" x="707" y="740.5">地点：漳州市胜利西路向荣大厦17A号楼</text></g>
<g id="L5"><rect class="n" x="774" y="773" width="136" height="25"/><text class="t" x="780" y="789.5">主持人：高振柱 整理人:×</text></g>
<g id="L6"><rect class="n" x="737" y="956" width="173" height="25"/><text class="t" x="743" y="972.5">参加单位及人员(附会议签到表)：</text></g>
<g id="L7"><rect class="n" x="482" y="822" width="233" height="40"/><text class="t" x="488" y="838.5">1. 建设单位：漳州国源房地产有限公司 陈庆<tspan x="488" dy="14.6">凤、韩总、高振柱、×××、余炳煌</tspan></text></g>
<g id="L8"><rect class="n" x="482" y="885" width="233" height="40"/><text class="t" x="488" y="901.5">2. 监理单位：福建安华建设工程监理咨询有<tspan x="488" dy="14.6">限公司 朱培坚</tspan></text></g>
<g id="L9"><rect class="n" x="482" y="949" width="233" height="40"/><text class="t" x="488" y="965.5">3. 设计单位：福建省九龙建设集团设计院漳<tspan x="488" dy="14.6">州分院 叶丽兰、杨学文、叶志强</tspan></text></g>
<g id="L10"><rect class="n" x="482" y="1013" width="233" height="40"/><text class="t" x="488" y="1029.5">4.地质勘察单位：福建省水文地质工程勘察研<tspan x="488" dy="14.6">究院 张国荣</tspan></text></g>
<g id="L11"><rect class="n" x="482" y="1076" width="233" height="40"/><text class="t" x="488" y="1092.5">5. 施工单位：厦门市聚雄市政工程有限公司<tspan x="488" dy="14.6">王治国、吴本银、郑传琛</tspan></text></g>
<g id="L12"><rect class="n" x="556" y="1141" width="233" height="40"/><text class="t" x="562" y="1157.5">一、设计院对瑞京路(西洋坪路至瑞京路已建<tspan x="562" dy="14.6">段)道路工程(K1+)进行图纸技术交底.</tspan></text></g>
<g id="L13"><rect class="n" x="302" y="1204" width="233" height="54"/><text class="t" x="308" y="1220.5">1、深层搅拌桩施工所采用的固化剂为425号<tspan x="308" dy="14.6">普通硅酸盐水泥，是否应明确为325或425的</tspan><tspan x="308" dy="14.6">水泥。</tspan></text></g>
<g id="L14"><rect class="n" x="150" y="1218" width="131" height="25"/><text class="t" x="156" y="1234.5">答复：采用425号水泥。</text></g>
<g id="L15"><rect class="n" x="302" y="1289" width="233" height="40"/><text class="t" x="308" y="1305.5">2、旧港道回填采用薄轮加法进行施工，该施<tspan x="308" dy="14.6">工方法的.施工工艺能否给予详细提供。</tspan></text></g>
<g id="L16"><rect class="n" x="47" y="1281" width="234" height="54"/><text class="t" x="53" y="1297.5">答复：由于路基范围内现场旧港道及南侧场地<tspan x="53" dy="14.6">已回填，不存在路堤稳定性的问题，可按一般</tspan><tspan x="53" dy="14.6">路基分层碾压施工。</tspan></text></g>
<g id="L17"><rect class="n" x="345" y="1359" width="190" height="25"/><text class="t" x="351" y="1375.5">3、渠化岛上的障碍墩采用什么材料?</text></g>
<g id="L18"><rect class="n" x="214" y="1359" width="111" height="25"/><text class="t" x="220" y="1375.5">答复：采用花岗岩。</text></g>
<g id="L19"><rect class="n" x="302" y="1408" width="233" height="82"/><text class="t" x="308" y="1424.5">4、过路管槽部分：1)管道与过路管槽交叉部<tspan x="308" dy="14.6">分的发石卷采用什么材料。2)过路管槽搭板与</tspan><tspan x="308" dy="14.6">路面相接一面应预埋传力杆，传力杆的大小和</tspan><tspan x="308" dy="14.6">间距要给予明确。3)墙体上供管线穿越的预留</tspan><tspan x="308" dy="14.6">洞位置不明确。</tspan></text></g>
<g id="L20"><rect class="n" x="47" y="1415" width="234" height="68"/><text class="t" x="53" y="1431.5">答复：1)发石卷材料采用与墙同，为浆砌条石<tspan x="53" dy="14.6">;2)取消过路管槽搭板与路面相接一面应预埋</tspan><tspan x="53" dy="14.6">传力杆;3)本次管槽只实施路沿处，不预留孔</tspan><tspan x="53" dy="14.6">洞。</tspan></text></g>
<g id="L21"><rect class="n" x="302" y="1516" width="233" height="40"/><text class="t" x="308" y="1532.5">5、路面结构应由原设计62cm改为61cm，(<tspan x="308" dy="14.6">有笔误)。</tspan></text></g>
<g id="L22"><rect class="n" x="47" y="1515" width="234" height="40"/><text class="t" x="53" y="1531.5">答复：62cm正确，含1厘米沥青表处下封层<tspan x="53" dy="14.6">。</tspan></text></g>
<g id="L23"><rect class="n" x="302" y="1580" width="233" height="82"/><text class="t" x="308" y="1596.5">6、水泥稳定层施工时按规定3%的第一层水<tspan x="308" dy="14.6">稳层施工完成后需要养护7天后才能施工5%</tspan><tspan x="308" dy="14.6">的第二层水稳层，第二层施工完成后也要养护</tspan><tspan x="308" dy="14.6">7天后才能进行下道工序施工。这样工期就无</tspan><tspan x="308" dy="14.6">法保证，能否考虑提前检验和下道工序施工。</tspan></text></g>
<g id="L24"><rect class="n" x="148" y="1608" width="133" height="25"/><text class="t" x="154" y="1624.5">答复：按施工规范进行。</text></g>
<g id="L25"><rect class="n" x="302" y="1685" width="233" height="96"/><text class="t" x="308" y="1701.5">7、本次施工暂定为600米，排水管道可否全<tspan x="308" dy="14.6">部施工，如果排水管道也只施工600米的话，</tspan><tspan x="308" dy="14.6">一是本次施工的排水段将无法排出，对道路施</tspan><tspan x="308" dy="14.6">工和以后的使用都不利，二是目前正处于冬季</tspan><tspan x="308" dy="14.6">，是施工下水的好时机，如果留到以后施工，</tspan><tspan x="308" dy="14.6">将会增添很多不利因素。</tspan></text></g>
<g id="L26"><rect class="n" x="148" y="1721" width="133" height="25"/><text class="t" x="154" y="1737.5">答复：与业主协商确定。</text></g>
<g id="L27"><rect class="n" x="302" y="1806" width="233" height="82"/><text class="t" x="308" y="1822.5">8、从K1+740~K2+040段(300m)，经我们<tspan x="308" dy="14.6">现场调查也存在的杂填土路基，请设计部门考</tspan><tspan x="308" dy="14.6">虑处理方案或处理原则，300米长为(暂定)，</tspan><tspan x="308" dy="14.6">因其它地段暂时没有交现场，换填段建议天祖</tspan><tspan x="308" dy="14.6">中砂后再填土。</tspan></text></g>
<g id="L28"><rect class="n" x="81" y="1834" width="201" height="25"/><text class="t" x="87" y="1850.5">答复：施工图该段已做局部换填处理。</text></g>
<g id="L29"><rect class="n" x="302" y="1913" width="233" height="54"/><text class="t" x="308" y="1929.5">9、本次施工段没有考虑人行道的软基处理，<tspan x="308" dy="14.6">如果不进行软基处理的话，今后会有不同程度</tspan><tspan x="308" dy="14.6">沉降。</tspan></text></g>
<g id="L30"><rect class="n" x="47" y="1920" width="234" height="40"/><text class="t" x="53" y="1936.5">答复：设计根据上部荷载、造价等因素结综合<tspan x="53" dy="14.6">考虑处理方案，是可行的。</tspan></text></g>
<g id="L31"><rect class="n" x="302" y="2068" width="233" height="40"/><text class="t" x="308" y="2084.5">10、本次施工段是否有地下管线或电缆，请<tspan x="308" dy="14.6">示图或现场交底。</tspan></text></g>
<g id="L32"><rect class="n" x="170" y="1991" width="112" height="25"/><text class="t" x="176" y="2007.5">答复：由业主确定。</text></g>
<g id="L33"><rect class="n" x="47" y="2040" width="235" height="40"/><text class="t" x="53" y="2056.5">附件1：设计院《关于瑞京路(西洋坪路至瑞京<tspan x="53" dy="14.6">路已建)施工图会审纪要》；</tspan></text></g>
<g id="L34"><rect class="n" x="72" y="2103" width="210" height="25"/><text class="t" x="78" y="2119.5">附件2：监理单位《监理图纸会审纪要》；</text></g>
<g id="L35"><rect class="n" x="47" y="2153" width="235" height="40"/><text class="t" x="53" y="2169.5">附件3：施工单位《瑞京路(西洋坪路至瑞京路<tspan x="53" dy="14.6">已建段)道路工程图纸会审》。</tspan></text></g>
<g id="L36"><rect class="n" x="556" y="1639" width="233" height="40"/><text class="t" x="562" y="1655.5">二、施工单位、监理单位、建设单位对图纸提<tspan x="562" dy="14.6">出了相关问题设计院答复形成纪要:</tspan></text></g>
<g id="L37"><rect class="n" x="811" y="1397" width="99" height="25"/><text class="t" x="817" y="1413.5">会议议程及内容：</text></g>
<g id="M1"><rect class="n" x="844" y="2224" width="66" height="25"/><text class="t" x="850" y="2240.5">会议议题：</text></g>
<g id="M2"><rect class="n" x="590" y="2217" width="233" height="40"/><text class="t" x="596" y="2233.5">春源公司龙岗同乐厂区二期厂房K区、J区厂<tspan x="596" dy="14.6">房图纸会审</tspan></text></g>
<g id="M3"><rect class="n" x="844" y="2287" width="66" height="25"/><text class="t" x="850" y="2303.5">工程名称：</text></g>
<g id="M4"><rect class="n" x="590" y="2280" width="233" height="40"/><text class="t" x="596" y="2296.5">春源公司龙岗同乐厂区二期厂房K区、J区厂<tspan x="596" dy="14.6">房工程</tspan></text></g>
<g id="M5"><rect class="n" x="866" y="2343" width="44" height="25"/><text class="t" x="872" y="2359.5">时间：</text></g>
<g id="M6"><rect class="n" x="714" y="2343" width="131" height="25"/><text class="t" x="720" y="2359.5">20xx年04月27日15：30</text></g>
<g id="M7"><rect class="n" x="866" y="2393" width="44" height="25"/><text class="t" x="872" y="2409.5">地点：</text></g>
<g id="M8"><rect class="n" x="713" y="2393" width="132" height="25"/><text class="t" x="719" y="2409.5">春源公司同乐厂区办公室</text></g>
<g id="M9"><rect class="n" x="855" y="2442" width="55" height="25"/><text class="t" x="861" y="2458.5">主持人：</text></g>
<g id="M10"><rect class="n" x="790" y="2442" width="44" height="25"/><text class="t" x="796" y="2458.5">仝山林</text></g>
<g id="M11"><rect class="n" x="855" y="2491" width="55" height="25"/><text class="t" x="861" y="2507.5">整理人：</text></g>
<g id="M12"><rect class="n" x="556" y="2541" width="233" height="40"/><text class="t" x="562" y="2557.5">1、建设单位：深圳春源钢铁工业有限公司林<tspan x="562" dy="14.6">三能</tspan></text></g>
<g id="M13"><rect class="n" x="556" y="2604" width="233" height="40"/><text class="t" x="562" y="2620.5">2、监理单位：深圳市龙建建设监理有限公司<tspan x="562" dy="14.6">仝山林、方红林</tspan></text></g>
<g id="M14"><rect class="n" x="594" y="2668" width="195" height="25"/><text class="t" x="600" y="2684.5">3、设计单位：城市建设研究院吴日垂</text></g>
<g id="M15"><rect class="n" x="811" y="2677" width="99" height="25"/><text class="t" x="817" y="2693.5">参加单位及人员：</text></g>
<g id="M16"><rect class="n" x="556" y="2800" width="233" height="40"/><text class="t" x="562" y="2816.5">4、施工单位：福建省九龙建设集团有限公司<tspan x="562" dy="14.6">王治国、吴本银、郑传琛会议议程及内容：</tspan></text></g>
<g id="M17"><rect class="n" x="302" y="2717" width="233" height="40"/><text class="t" x="308" y="2733.5">一、设计院对春源公司龙岗同乐厂区二期厂房<tspan x="308" dy="14.6">K区、J区厂房工程进行图纸技术交底.</tspan></text></g>
<g id="M18"><rect class="n" x="302" y="2883" width="233" height="40"/><text class="t" x="308" y="2899.5">二、施工单位、监理单位、建设单位对图纸提<tspan x="308" dy="14.6">出了相关问题设计院答复形成纪要：</tspan></text></g>
<g id="M19"><rect class="n" x="47" y="2781" width="235" height="40"/><text class="t" x="53" y="2797.5">春源公司龙岗同乐厂区二期厂房K区、J区厂<tspan x="53" dy="14.6">房项目监理部</tspan></text></g>
<g id="M20"><rect class="n" x="237" y="2844" width="45" height="25"/><text class="t" x="243" y="2860.5">整理：</text></g>
<g id="M21"><rect class="n" x="237" y="2893" width="45" height="25"/><text class="t" x="243" y="2909.5">签发：</text></g>
<g id="M22"><rect class="n" x="237" y="2943" width="45" height="25"/><text class="t" x="243" y="2959.5">审核：</text></g>
<g id="M23"><rect class="n" x="214" y="2992" width="68" height="25"/><text class="t" x="220" y="3008.5">签发日期：</text></g>
</g>
</svg>
